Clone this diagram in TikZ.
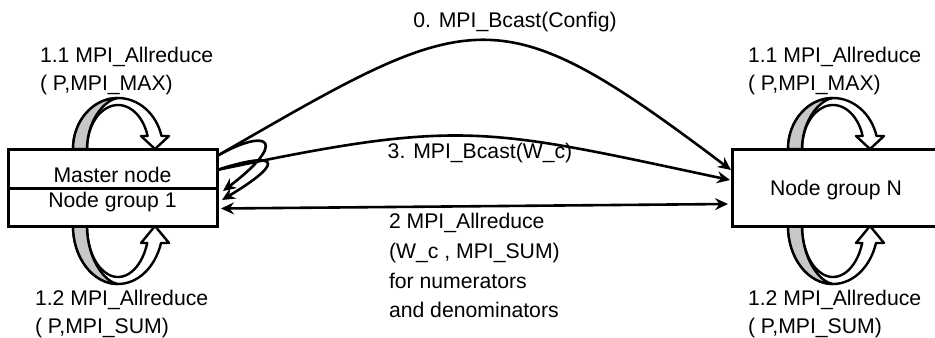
\documentclass[tikz,border=0pt]{standalone}
\usepackage{fontspec}
\setmainfont{Liberation Sans}
\usetikzlibrary{arrows.meta,calc}
\begin{document}
\begin{tikzpicture}[x=0.5pt,y=-0.5pt,
  box/.style={draw=black,line width=1.5pt,fill=white,inner sep=0pt,outer sep=0pt},
  txt/.style={inner sep=0pt,outer sep=0pt,font=\fontsize{10.6}{14}\selectfont},
  conn/.style={line width=1.3pt,-{Stealth[length=6.5pt,width=6pt,inset=2.2pt]}},
  dconn/.style={line width=1.3pt,{Stealth[length=6.5pt,width=6pt,inset=2.2pt]}-{Stealth[length=6.5pt,width=6pt,inset=2.2pt]}},
  rib/.style={line width=1.2pt,draw=black,fill=white,line join=round},
  ribgray/.style={line width=1.2pt,draw=black,fill=black!22,line join=round}]
\useasboundingbox (0,0) rectangle (935,337);

% ribbon self-loops
\foreach \cx in {118,833}{
\begin{scope}[shift={(\cx,149)}]
 \filldraw[rib] (-45,0) arc[start angle=180,end angle=345.23,x radius=45,y radius=51] -- (51,-13) -- (37,0) -- (23,-13) -- (29.62,-13) arc[start angle=342.81,end angle=180,x radius=31,y radius=44] -- cycle;
 \filldraw[ribgray] (-45,0) arc[start angle=180,end angle=270,x radius=45,y radius=51] .. controls (-14,-49) and (-31,-28) .. (-31,0) -- cycle;
\end{scope}
\begin{scope}[shift={(\cx,226)},yscale=-1]
 \filldraw[rib] (-45,0) arc[start angle=180,end angle=342.96,x radius=45,y radius=58] -- (51,-17) -- (37,0) -- (23,-17) -- (29.2,-17) arc[start angle=340.53,end angle=180,x radius=31,y radius=51] -- cycle;
 \filldraw[ribgray] (-45,0) arc[start angle=180,end angle=270,x radius=45,y radius=58] .. controls (-14,-56) and (-31,-32) .. (-31,0) -- cycle;
\end{scope}
}

% boxes
\node[box,minimum width=104.5pt,minimum height=19.5pt] (master) at (112.5,168.5) {};
\node[box,minimum width=104.5pt,minimum height=19pt] (group1) at (112.5,207) {};
\node[box,minimum width=105pt,minimum height=38.5pt] (groupN) at (837,187.5) {};

\node[txt,anchor=base] (tmaster) at (112.5,182.6) {Master node};
\node[txt,anchor=base] (tgroup1) at (112.5,207.6) {Node group 1};
\node[txt,anchor=base] (tgroupN) at (836,195.6) {Node group N};

% labels (base anchor = baseline of last line)
\node[txt,anchor=base west,align=left] (ltl) at (40,90.6) {1.1 MPI\_Allreduce\\( P,MPI\_MAX)};
\node[txt,anchor=base west,align=left] (ltr) at (748,90.6) {1.1 MPI\_Allreduce\\( P,MPI\_MAX)};
\node[txt,anchor=base west,align=left] (lbl) at (35,333.2) {1.2 MPI\_Allreduce\\( P,MPI\_SUM)};
\node[txt,anchor=base west,align=left] (lbr) at (748,333.2) {1.2 MPI\_Allreduce\\( P,MPI\_SUM)};
\node[txt,anchor=base west,align=left,font=\fontsize{10.6}{14.85}\selectfont] (lmid) at (389,317.7) {2 MPI\_Allreduce\\(W\_c , MPI\_SUM)\\for numerators\\and denominators};
\node[txt,anchor=base] (l0) at (515,27.6) {0. MPI\_Bcast(Config)};
\node[txt,anchor=base] (l3) at (480,158.6) {3. MPI\_Bcast(W\_c)};

% connectors
\draw[conn] ($(master.north east)+(0,7)$) .. controls (475,7) and (495,-8) .. ($(groupN.west)+(-1,-17.5)$);
\draw[conn] ($(master.south east)+(0,-18)$) .. controls (463,118) and (485,128) .. ($(groupN.west)+(-2,-7.5)$);
\draw[conn] ($(master.north east)+(0,7)$) .. controls (270,126) and (288,142) .. ($(group1.east)+(6,-16)$);
\draw[conn] ($(master.south east)+(0,-18)$) .. controls (272,152) and (292,158) .. ($(group1.east)+(5,-7)$);
\draw[dconn] ($(group1.east)+(4,1.5)$) -- ($(groupN.west)+(-4,16.5)$);
\end{tikzpicture}
\end{document}
